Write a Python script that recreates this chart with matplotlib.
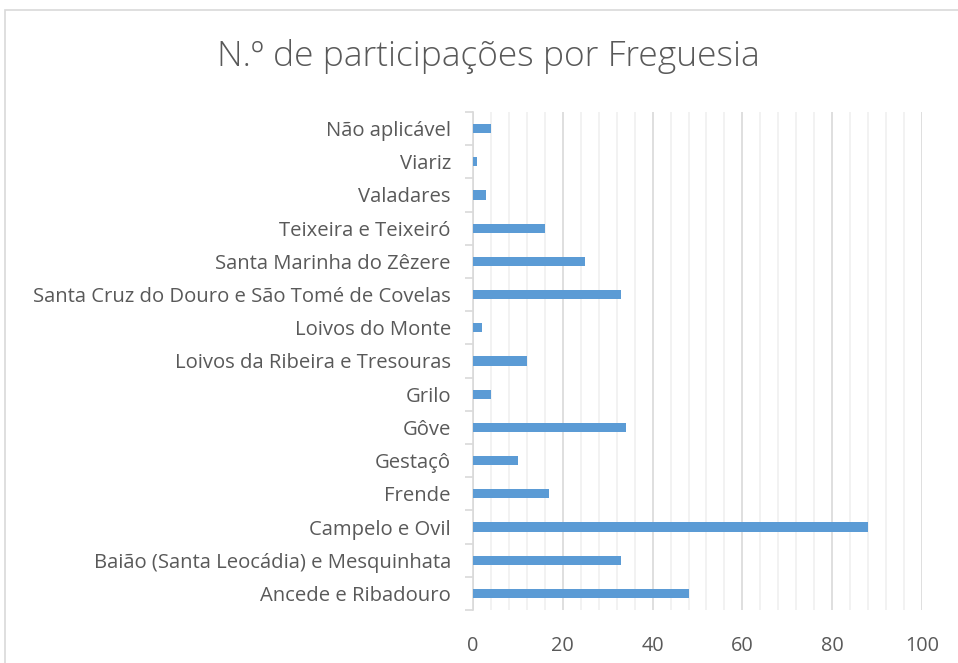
import numpy as np
import matplotlib.pyplot as plt
from matplotlib.patches import Rectangle

freguesias = ["Ancede e Ribadouro", "Baião (Santa Leocádia) e Mesquinhata", "Campelo e Ovil",
              "Frende", "Gestaçô", "Gôve", "Grilo", "Loivos da Ribeira e Tresouras",
              "Loivos do Monte", "Santa Cruz do Douro e São Tomé de Covelas",
              "Santa Marinha do Zêzere", "Teixeira e Teixeiró", "Valadares", "Viariz",
              "Não aplicável"]
participacoes = [48, 33, 88, 17, 10, 34, 4, 12, 2, 33, 25, 16, 3, 1, 4]
x_ticks = [0, 20, 40, 60, 80, 100]

plt.rcParams['font.family'] = ['Open Sans', 'DejaVu Sans']
txt = '#595959'

fig = plt.figure(figsize=(9.58, 6.63), dpi=100)
fig.patches.append(Rectangle((5 / 958, -0.1), 1.2, 1 - 10 / 663 + 0.1, transform=fig.transFigure,
                             fill=False, edgecolor='#d9d9d9', linewidth=1.2))
ax = fig.add_axes([473 / 958, 1 - 610 / 663, 449 / 958, 498 / 663])

y = np.arange(len(freguesias))
ax.barh(y, participacoes, height=0.28, color='#5b9bd5', zorder=3)

ax.set_xlim(0, 100)
ax.set_ylim(-0.5, len(freguesias) - 0.5)
ax.set_xticks(x_ticks)
ax.set_xticks(np.arange(0, 101, 4), minor=True)
ax.grid(axis='x', which='major', color='#d9d9d9', linewidth=1.2, zorder=0)
ax.grid(axis='x', which='minor', color='#f0f0f0', linewidth=1.2, zorder=0)
ax.tick_params(axis='x', which='both', length=0, labelsize=14.3, colors=txt, pad=18.5)

ax.set_yticks(y)
ax.set_yticklabels(freguesias)
ax.set_yticks(np.arange(-0.5, len(freguesias), 1), minor=True)
ax.tick_params(axis='y', which='major', length=0, labelsize=14.6, colors=txt, pad=16)
ax.tick_params(axis='y', which='minor', length=6, color='#d9d9d9', width=1.2)

for s in ['top', 'right', 'bottom']:
    ax.spines[s].set_visible(False)
ax.spines['left'].set_color('#d9d9d9')
ax.spines['left'].set_linewidth(1.2)

fig.text(488 / 958, 1 - 57 / 663, "N.º de participações por Freguesia", ha='center', va='center',
         fontsize=25.5, color=txt, fontweight='light')

fig.savefig('out.png', dpi=100)
